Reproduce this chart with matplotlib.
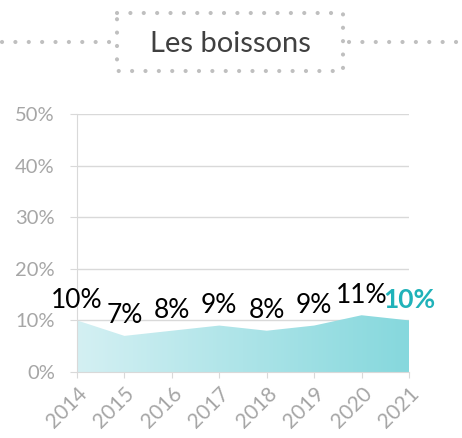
import numpy as np
import matplotlib
matplotlib.use("Agg")
from matplotlib import pyplot as plt
from matplotlib.colors import LinearSegmentedColormap
from matplotlib.lines import Line2D

# data
years = ['2014', '2015', '2016', '2017', '2018', '2019', '2020', '2021']
values = [0.10, 0.07, 0.08, 0.09, 0.08, 0.09, 0.11, 0.10]
labels = ['10%', '7%', '8%', '9%', '8%', '9%', '11%', '10%']
y_ticks = [0, 0.1, 0.2, 0.3, 0.4, 0.5]
y_ticklabels = ['0%', '10%', '20%', '30%', '40%', '50%']
title = 'Les boissons'

plt.rcParams['font.family'] = ['Lato', 'DejaVu Sans']

W, H = 462, 438
fig = plt.figure(figsize=(W / 100, H / 100), dpi=100)
ax = fig.add_axes([77 / W, 66 / H, (409 - 77) / W, (372 - 114) / H])

x = np.arange(len(years))
grey = '#a6a6a6'
grid = '#d9d9d9'

# gradient area
poly = ax.fill_between(x, 0, values, color='none', lw=0)
cmap = LinearSegmentedColormap.from_list('teal', ['#d4f0f3', '#86d8dd'])
grad = np.linspace(0, 1, 256).reshape(1, -1)
img = ax.imshow(grad, cmap=cmap, aspect='auto', extent=[0, len(years) - 1, 0, 0.5],
                origin='lower', zorder=2)
img.set_clip_path(poly.get_paths()[0], transform=ax.transData)

# value labels
for i, (v, lab) in enumerate(zip(values, labels)):
    last = i == len(values) - 1
    ax.annotate(lab, (i, v), xytext=(0, 9), textcoords='offset points',
                ha='center', va='baseline', fontsize=19,
                color='#20b2b9' if last else 'black',
                fontweight='bold' if last else 'normal', zorder=5)

ax.set_xlim(0, len(years) - 1)
ax.set_ylim(0, 0.5)
ax.set_yticks(y_ticks)
ax.set_yticklabels(y_ticklabels)
ax.set_xticks(x)
ax.set_xticklabels(years, rotation=45, ha='right', va='top', rotation_mode='anchor')
ax.grid(axis='y', color=grid, lw=1)
ax.set_axisbelow(True)
for s in ['top', 'right']:
    ax.spines[s].set_visible(False)
for s in ['left', 'bottom']:
    ax.spines[s].set_color(grid)
ax.tick_params(axis='y', length=5, color=grid, labelcolor=grey, labelsize=14.5, pad=11)
ax.tick_params(axis='x', length=4, color=grid, labelcolor=grey, labelsize=15, pad=4)

# title box with dotted frame
ov = fig.add_axes([0, 0, 1, 1], facecolor='none')
ov.set_xlim(0, W)
ov.set_ylim(H, 0)
ov.axis('off')
dots = dict(color='#bfbfbf', lw=3, linestyle=(0, (0.01, 3.2)), dash_capstyle='round')
ov.add_line(Line2D([117, 343, 343, 117, 117], [13, 13, 71, 71, 13], **dots))
ov.add_line(Line2D([2, 112], [42, 42], **dots))
ov.add_line(Line2D([349, 462], [42, 42], **dots))
ov.text(230, 44, title, ha='center', va='center', fontsize=21, color='#404040')

fig.savefig('out.png', dpi=100)
